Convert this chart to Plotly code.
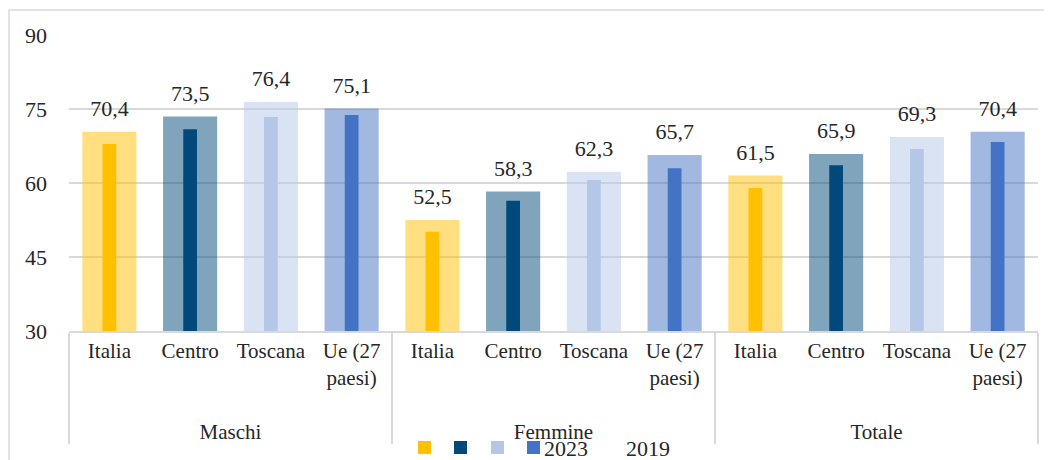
import plotly.graph_objects as go

# Tasso di occupazione per sesso e territorio, 2023 e 2019
gruppi = ["Maschi", "Femmine", "Totale"]
territori = ["Italia", "Centro", "Toscana", "Ue (27<br>paesi)"]
val_2023 = [70.4, 73.5, 76.4, 75.1, 52.5, 58.3, 62.3, 65.7, 61.5, 65.9, 69.3, 70.4]
val_2019 = [67.9, 70.9, 73.4, 73.8, 50.1, 56.4, 60.6, 63.0, 59.0, 63.6, 66.9, 68.3]
colori = ["#FFC000", "#00497A", "#B4C7E7", "#4472C4"]
y_ticks = [30, 45, 60, 75, 90]

FONT = "Liberation Serif"
FS = 22
TXT = "#262626"
OFF = 8  # page body margin: the figure starts 8px in from the window corner
W, H = 1052 - OFF, 460 - OFF
L, R, T, B = 69 - OFF, 14, 35 - OFF, 129  # margins (px)

# pad the inner labels to three lines so the outer group labels sit lower, like Excel
inner = [t if "<br>" in t else t + "<br> " for t in territori]
inner = [t + "<br> " for t in inner]
x = [[g for g in gruppi for t in inner], [t for g in gruppi for t in inner]]
bar_colors = colori * len(gruppi)
n_cat = len(gruppi) * len(territori)


def px_x(p):  # window pixel -> paper
    return (p - OFF - L) / (W - L - R)


def px_y(p):
    return (H - B - (p - OFF)) / (H - T - B)


fig = go.Figure()

# 2023: wide semi-transparent bars
fig.add_trace(go.Bar(x=x, y=val_2023, width=0.67, name="2023",
                     marker=dict(color=bar_colors, opacity=0.5, line_width=0),
                     showlegend=False, hoverinfo="y"))
# 2019: narrow solid bars
fig.add_trace(go.Bar(x=x, y=val_2019, width=0.17, name="2019",
                     marker=dict(color=bar_colors, line_width=0),
                     showlegend=False, hoverinfo="y"))
# data labels for 2023
fig.add_trace(go.Scatter(x=x, y=val_2023, mode="markers+text", texttemplate="%{y:.1f}",
                         textposition="top center", marker=dict(size=15, opacity=0),
                         textfont=dict(family=FONT, size=FS, color=TXT),
                         showlegend=False, hoverinfo="skip", cliponaxis=False))

# Custom Excel-style legend: four coloured squares, then "2023" and "2019"
shapes = []
sq = [418, 454, 491, 527]
for x0, c in zip(sq, colori):
    shapes.append(dict(type="rect", xref="paper", yref="paper",
                       x0=px_x(x0), x1=px_x(x0 + 13), y0=px_y(454), y1=px_y(441),
                       fillcolor=c, line_width=0))
# outer chart border
shapes.append(dict(type="rect", xref="paper", yref="paper",
                   x0=px_x(9), x1=px_x(1045), y0=px_y(475), y1=px_y(10),
                   line=dict(color="#D9D9D9", width=1.5), fillcolor="rgba(0,0,0,0)", layer="below"))

annotations = [
    dict(text="2023", xref="paper", yref="paper", x=px_x(542), y=px_y(448),
         xanchor="left", yanchor="middle", showarrow=False,
         font=dict(family=FONT, size=FS, color=TXT)),
    dict(text="2019", xref="paper", yref="paper", x=px_x(624), y=px_y(448),
         xanchor="left", yanchor="middle", showarrow=False,
         font=dict(family=FONT, size=FS, color=TXT)),
]

fig.update_layout(
    width=W, height=H, barmode="overlay", separators=",.",
    margin=dict(l=L, r=R, t=T, b=B, autoexpand=False),
    plot_bgcolor="white", paper_bgcolor="white",
    font=dict(family=FONT, size=FS, color=TXT),
    showlegend=False, shapes=shapes, annotations=annotations,
)
fig.update_xaxes(type="multicategory", range=[-0.5, n_cat - 0.5], tickangle=0,
                 showline=True, linecolor="#D9D9D9", linewidth=1.5,
                 showdividers=True, dividercolor="#D9D9D9", dividerwidth=1.5,
                 automargin=False,
                 tickfont=dict(family=FONT, size=21, color=TXT), showgrid=False)
fig.update_yaxes(range=[30, 90], tickvals=y_ticks, showgrid=True, gridcolor="#D9D9D9",
                 gridwidth=1.5, zeroline=False, showline=False, ticklabelstandoff=21,
                 automargin=False,
                 tickfont=dict(family=FONT, size=FS, color=TXT))

fig.write_html("out.html")
